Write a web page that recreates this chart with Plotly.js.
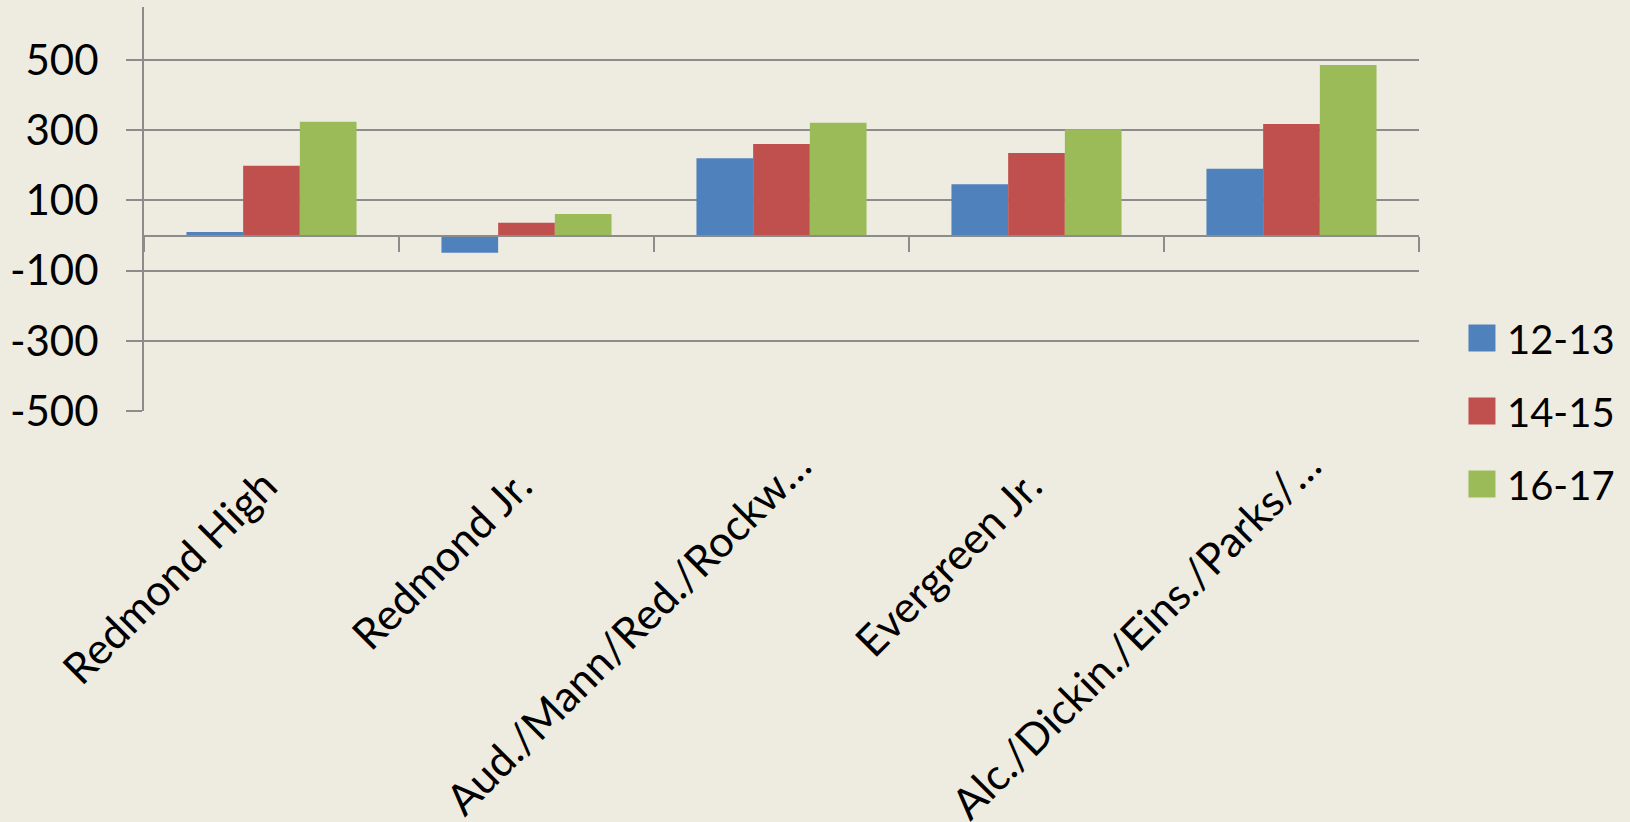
<!DOCTYPE html>
<html><head><meta charset="utf-8">
<script src="https://cdn.plot.ly/plotly-3.0.1.min.js"></script>
<style>html,body{margin:0;padding:0;background:#EEECE1;} #chart{width:1630px;height:822px;}</style>
</head><body><div id="chart"></div>
<script>
const categories = ["Redmond High", "Redmond Jr.", "Aud./Mann/Red./Rockw…", "Evergreen Jr.", "Alc./Dickin./Eins./Parks/…"];
const seriesNames = ["12-13", "14-15", "16-17"];
const s1213 = [10, -49, 220, 146, 190];
const s1415 = [199, 36, 261, 235, 318];
const s1617 = [324, 61, 321, 303, 486];
const yTickVals = [-500, -300, -100, 100, 300, 500];
const yTickText = ["-500", "-300", "-100", "100", "300", "500"];

const colors = ["#4F81BD", "#C0504D", "#9BBB59"];
const Y_MIN = -500, Y_MAX = 651;
const FONT = "Lato, 'Open Sans', sans-serif";
const GRID = "#8C8C8C";

const seriesVals = [s1213, s1415, s1617];
const traces = seriesVals.map((vals, i) => ({
  type: "bar", name: seriesNames[i], x: categories, y: vals,
  xaxis: "x", yaxis: "y", legendgroup: "g" + i,
  marker: {color: colors[i], line: {width: 0}}, hoverinfo: "x+y+name"
}));
// helper trace (no visible points) so the bottom label axis exists
traces.push({
  type: "scatter", mode: "markers", x: categories, y: categories.map(() => null),
  xaxis: "x2", yaxis: "y", showlegend: false, hoverinfo: "skip"
});

const layout = {
  width: 1630, height: 822,
  paper_bgcolor: "#EEECE1", plot_bgcolor: "#EEECE1",
  margin: {l: 144, r: 211, t: 7, b: 411, pad: 0},
  font: {family: FONT, size: 40, color: "#000000"},
  barmode: "group", bargap: 0.333, bargroupgap: 0,
  showlegend: true,
  legend: {
    x: 1.0337, xanchor: "left", y: 0, yanchor: "middle",
    font: {family: FONT, size: 40, color: "#000"},
    bgcolor: "rgba(0,0,0,0)", tracegroupgap: 18,
    itemclick: false, itemdoubleclick: false
  },
  xaxis: {
    type: "category", categoryarray: categories, categoryorder: "array", range: [-0.5, 4.5],
    anchor: "free", position: (0 - Y_MIN) / (Y_MAX - Y_MIN),
    showline: true, linecolor: GRID, linewidth: 2,
    ticks: "outside", tickson: "boundaries", ticklen: 15, tickwidth: 2, tickcolor: GRID,
    showticklabels: false, showgrid: false, zeroline: false, fixedrange: true
  },
  xaxis2: {
    type: "category", categoryarray: categories, categoryorder: "array",
    range: [-0.5, 4.5], overlaying: "x", anchor: "y", side: "bottom",
    showline: false, ticks: "", showgrid: false, zeroline: false,
    tickangle: -45, ticklabelstandoff: 40, ticklabelshift: -7,
    tickfont: {family: FONT, size: 43, color: "#000"}, fixedrange: true
  },
  yaxis: {
    range: [Y_MIN, Y_MAX], tickmode: "array", tickvals: yTickVals, ticktext: yTickText,
    showline: true, linecolor: GRID, linewidth: 2,
    showgrid: true, gridcolor: GRID, gridwidth: 2,
    ticks: "outside", ticklen: 16, tickwidth: 2, tickcolor: GRID,
    ticklabelstandoff: 19, zeroline: false,
    tickfont: {family: FONT, size: 42, color: "#000"}, fixedrange: true
  }
};

Plotly.newPlot("chart", traces, layout, {displayModeBar: false}).then(() => {
  document.querySelectorAll("#chart .legend .legendpoints path").forEach(p => {
    p.setAttribute("d", "M13.5,13.5H-13.5V-13.5H13.5Z");
  });
  document.querySelectorAll("#chart .legend .legendtext").forEach(t => {
    const x = parseFloat(t.getAttribute("x") || "0");
    t.setAttribute("x", String(x + 5));
  });
  // truncated (ellipsis) labels sit further along their baseline in the original
  document.querySelectorAll("#chart g.x2tick text").forEach(t => {
    if (t.textContent.endsWith("…")) {
      t.setAttribute("transform", "translate(24,-20) " + (t.getAttribute("transform") || ""));
    }
  });
});
</script>
</body></html>
